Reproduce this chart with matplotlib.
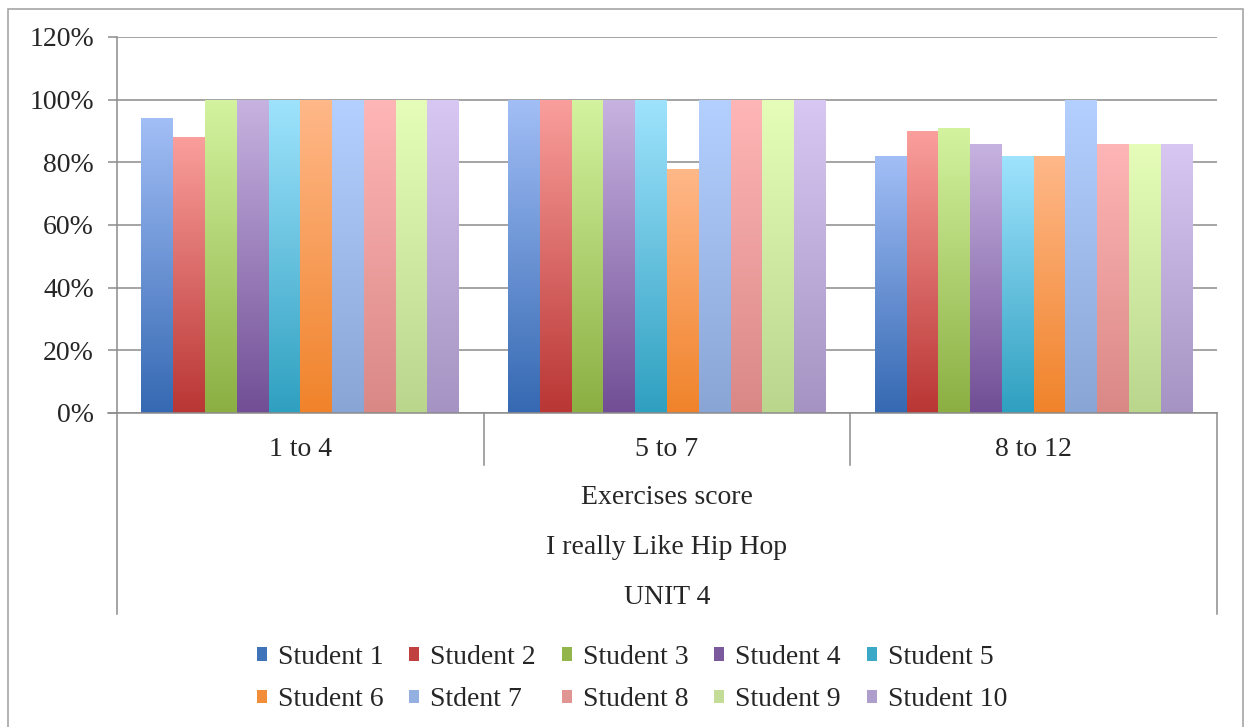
import numpy as np
import matplotlib
matplotlib.use("Agg")
import matplotlib.pyplot as plt
from matplotlib.patches import Rectangle, Patch
from matplotlib.lines import Line2D
from matplotlib.transforms import blended_transform_factory

# ---- data -------------------------------------------------------------
categories = ["1 to 4", "5 to 7", "8 to 12"]
outer_labels = ["Exercises score", "I really Like Hip Hop", "UNIT 4"]
students = ["Student 1", "Student 2", "Student 3", "Student 4", "Student 5",
            "Student 6", "Stdent 7", "Student 8", "Student 9", "Student 10"]
scores = [
    [0.94, 1.00, 0.82],   # Student 1
    [0.88, 1.00, 0.90],   # Student 2
    [1.00, 1.00, 0.91],   # Student 3
    [1.00, 1.00, 0.86],   # Student 4
    [1.00, 1.00, 0.82],   # Student 5
    [1.00, 0.78, 0.82],   # Student 6
    [1.00, 1.00, 1.00],   # Stdent 7
    [1.00, 1.00, 0.86],   # Student 8
    [1.00, 1.00, 0.86],   # Student 9
    [1.00, 1.00, 0.86],   # Student 10
]
yticks = [0, 0.2, 0.4, 0.6, 0.8, 1.0, 1.2]

# gradient colours per series: (bottom, top)
grad_colors = [
    ("#3569B2", "#A2BEF6"),
    ("#B93634", "#FA9F9C"),
    ("#8BAF42", "#D4F3A0"),
    ("#714E95", "#C7B3E1"),
    ("#2FA0C0", "#9FE3FD"),
    ("#F0832A", "#FFB889"),
    ("#88A5D6", "#B4D0FF"),
    ("#D98886", "#FFB6B6"),
    ("#BAD68D", "#E5FDB8"),
    ("#A594C3", "#D8C7F2"),
]
legend_colors = ["#3F74BA", "#C0413F", "#93B64C", "#7A5A9D", "#3AA8C6",
                 "#F28D3A", "#94B0E0", "#E09593", "#C3DC98", "#AE9ECB"]

plt.rcParams["font.family"] = ["Liberation Serif", "DejaVu Serif"]
FS = 20
TXT = "#262626"
GRID = "#8C8C8C"

W, H = 1244, 727
fig = plt.figure(figsize=(W / 100, H / 100), dpi=100)
fig.patch.set_facecolor("white")

def fx(px):
    return px / W

def fy(py):
    return 1 - py / H

ax_l, ax_r, ax_t, ax_b = 117, 1217, 37, 413
ax = fig.add_axes([fx(ax_l), fy(ax_b), fx(ax_r) - fx(ax_l), fy(ax_t) - fy(ax_b)])

n_series = len(students)
group_w = 0.867
bar_w = group_w / n_series
x = np.arange(len(categories))

for i, (vals, (c0, c1)) in enumerate(zip(scores, grad_colors)):
    pos = x + (i - (n_series - 1) / 2) * bar_w
    bars = ax.bar(pos, vals, width=bar_w, facecolor="none", edgecolor="none", zorder=3)
    rgb0 = np.array(matplotlib.colors.to_rgb(c0))
    rgb1 = np.array(matplotlib.colors.to_rgb(c1))
    t = np.linspace(1, 0, 256)[:, None]
    grad = (rgb0 * (1 - t) + rgb1 * t)[:, None, :]
    for b in bars:
        x0, w_, h_ = b.get_x(), b.get_width(), b.get_height()
        im = ax.imshow(grad, extent=[x0, x0 + w_, 0, h_], aspect="auto",
                       zorder=2, interpolation="bilinear")
        im.set_clip_path(b)

ax.set_xlim(-0.5, len(categories) - 0.5)
ax.set_ylim(0, 1.2)
ax.set_yticks(yticks)
ax.set_yticklabels([f"{int(round(v * 100))}%" for v in yticks])
ax.yaxis.grid(True, color=GRID, linewidth=1.1, zorder=0)
ax.set_axisbelow(True)
ax.tick_params(axis="y", length=6.5, width=1.1, color=GRID, labelsize=FS,
               labelcolor=TXT, pad=10)
ax.tick_params(axis="x", length=0, labelbottom=False)
ax.set_xticks([])
for s in ["top", "right"]:
    ax.spines[s].set_visible(False)
ax.spines["left"].set_color(GRID)
ax.spines["left"].set_linewidth(1.1)
ax.spines["bottom"].set_color(GRID)
ax.spines["bottom"].set_linewidth(1.1)

# multi-level category axis below the plot
trans = blended_transform_factory(ax.transData, fig.transFigure)
for k in range(1, len(categories)):
    ax.add_line(Line2D([k - 0.5, k - 0.5], [fy(ax_b), fy(465)], transform=trans,
                       color=GRID, linewidth=1.1, clip_on=False))
for k in [-0.5, len(categories) - 0.5]:
    ax.add_line(Line2D([k, k], [fy(ax_b), fy(614)], transform=trans,
                       color=GRID, linewidth=1.1, clip_on=False))
# bottom tick stub at the 0% line
ax.add_line(Line2D([fx(108), fx(ax_l)], [fy(ax_b), fy(ax_b)], transform=fig.transFigure,
                   color=GRID, linewidth=1.1, clip_on=False))
for k, c in enumerate(categories):
    ax.text(k, fy(449), c, transform=trans, ha="center", va="center",
            fontsize=FS, color=TXT)
for lbl, py in zip(outer_labels, [497, 547, 597]):
    ax.text((len(categories) - 1) / 2, fy(py), lbl, transform=trans,
            ha="center", va="center", fontsize=FS, color=TXT)

# legend, filled row by row (5 per row)
ncol = 5
nrow = int(np.ceil(len(students) / ncol))
order = [r * ncol + c for c in range(ncol) for r in range(nrow)]
handles = [Patch(facecolor=legend_colors[j], edgecolor="none") for j in order]
labels = [students[j] for j in order]
fig.legend(handles, labels, ncol=ncol, loc="center", bbox_to_anchor=(fx(632), fy(678.5)),
           frameon=False, fontsize=FS, handlelength=0.36, handleheight=0.36,
           handletextpad=0.4, columnspacing=0.93, labelspacing=0.62,
           labelcolor=TXT)

# chart area border
fig.add_artist(Rectangle((fx(8), fy(H + 20)), fx(1243) - fx(8), fy(9) - fy(H + 20),
                         transform=fig.transFigure, facecolor="none",
                         edgecolor="#A6A6A6", linewidth=1.2, clip_on=False))

fig.savefig("out.png", dpi=100, facecolor="white")
